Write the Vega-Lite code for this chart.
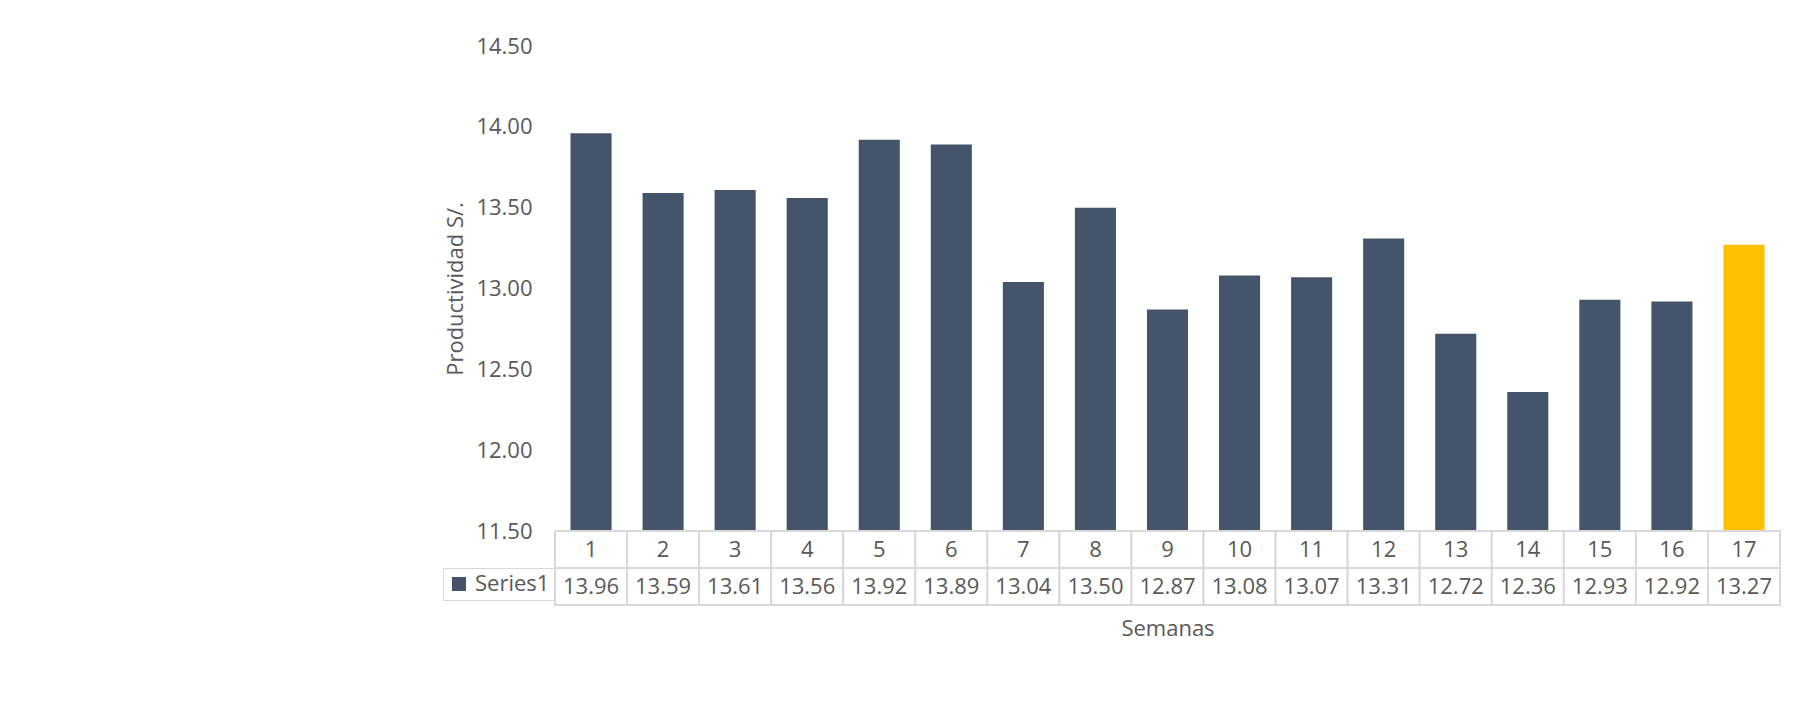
{
  "$schema": "https://vega.github.io/schema/vega-lite/v6.json",
  "background": "white",
  "padding": {"left": 442, "top": 35, "right": 0, "bottom": 12},
  "datasets": {
    "productividad": [
      {"semana": 1, "valor": 13.96, "serie": "Series1"},
      {"semana": 2, "valor": 13.59, "serie": "Series1"},
      {"semana": 3, "valor": 13.61, "serie": "Series1"},
      {"semana": 4, "valor": 13.56, "serie": "Series1"},
      {"semana": 5, "valor": 13.92, "serie": "Series1"},
      {"semana": 6, "valor": 13.89, "serie": "Series1"},
      {"semana": 7, "valor": 13.04, "serie": "Series1"},
      {"semana": 8, "valor": 13.50, "serie": "Series1"},
      {"semana": 9, "valor": 12.87, "serie": "Series1"},
      {"semana": 10, "valor": 13.08, "serie": "Series1"},
      {"semana": 11, "valor": 13.07, "serie": "Series1"},
      {"semana": 12, "valor": 13.31, "serie": "Series1"},
      {"semana": 13, "valor": 12.72, "serie": "Series1"},
      {"semana": 14, "valor": 12.36, "serie": "Series1"},
      {"semana": 15, "valor": 12.93, "serie": "Series1"},
      {"semana": 16, "valor": 12.92, "serie": "Series1"},
      {"semana": 17, "valor": 13.27, "serie": "Series1"}
    ]
  },
  "spacing": 0,
  "bounds": "flush",
  "resolve": {"scale": {"color": "independent"}, "legend": {"color": "independent"}},
  "vconcat": [
    {
      "width": 1225,
      "height": 485,
      "data": {"name": "productividad"},
      "mark": {"type": "bar", "width": {"band": 0.57}},
      "encoding": {
        "x": {
          "field": "semana",
          "type": "ordinal",
          "scale": {"paddingInner": 0, "paddingOuter": 0},
          "axis": null
        },
        "y": {
          "field": "valor",
          "type": "quantitative",
          "scale": {"domain": [11.5, 14.5], "zero": false, "nice": false},
          "axis": {
            "values": [11.5, 12, 12.5, 13, 13.5, 14, 14.5],
            "format": ".2f",
            "grid": false,
            "domain": false,
            "ticks": false,
            "tickSize": 0,
            "labelPadding": 23,
            "labelFont": "Open Sans",
            "labelFontSize": 22,
            "labelColor": "#595959",
            "title": "Productividad S/.",
            "titleFont": "Open Sans",
            "titleFontSize": 22,
            "titleFontWeight": "normal",
            "titleColor": "#595959",
            "titlePadding": 8
          }
        },
        "y2": {"datum": 11.5},
        "color": {
          "condition": {"test": "datum.semana === 17", "value": "#FFC000"},
          "value": "#44546A"
        }
      }
    },
    {
      "width": 1225,
      "height": 37,
      "data": {"name": "productividad"},
      "encoding": {
        "x": {
          "field": "semana",
          "type": "ordinal",
          "scale": {"paddingInner": 0, "paddingOuter": 0},
          "axis": null
        }
      },
      "layer": [
        {"mark": {"type": "bar", "width": {"band": 1}, "fill": "white", "stroke": "#D9D9D9", "strokeWidth": 2}},
        {
          "mark": {"type": "text", "font": "Open Sans", "fontSize": 22, "color": "#595959", "baseline": "middle"},
          "encoding": {"text": {"field": "semana", "type": "ordinal"}}
        }
      ]
    },
    {
      "width": 1225,
      "height": 37,
      "data": {"name": "productividad"},
      "encoding": {
        "x": {
          "field": "semana",
          "type": "ordinal",
          "scale": {"paddingInner": 0, "paddingOuter": 0},
          "axis": {
            "labels": false,
            "ticks": false,
            "tickSize": 0,
            "domain": false,
            "title": "Semanas",
            "titleFont": "Open Sans",
            "titleFontSize": 22,
            "titleFontWeight": "normal",
            "titleColor": "#595959",
            "titlePadding": 13
          }
        }
      },
      "layer": [
        {"mark": {"type": "bar", "width": {"band": 1}, "fill": "white", "stroke": "#D9D9D9", "strokeWidth": 2}},
        {
          "mark": {"type": "square", "opacity": 0},
          "encoding": {
            "color": {
              "field": "serie",
              "type": "nominal",
              "scale": {"range": ["#44546A"]},
              "legend": {
                "title": null,
                "orient": "left",
                "offset": 0,
                "padding": 5,
                "strokeColor": "#D9D9D9",
                "symbolType": "square",
                "symbolSize": 196,
                "symbolOpacity": 1,
                "symbolStrokeWidth": 0,
                "labelFont": "Open Sans",
                "labelFontSize": 22,
                "labelColor": "#595959",
                "labelOffset": 5
              }
            }
          }
        },
        {
          "mark": {"type": "text", "font": "Open Sans", "fontSize": 22, "color": "#595959", "baseline": "middle"},
          "encoding": {"text": {"field": "valor", "type": "quantitative", "format": ".2f"}}
        }
      ]
    }
  ],
  "config": {"view": {"stroke": null}}
}
